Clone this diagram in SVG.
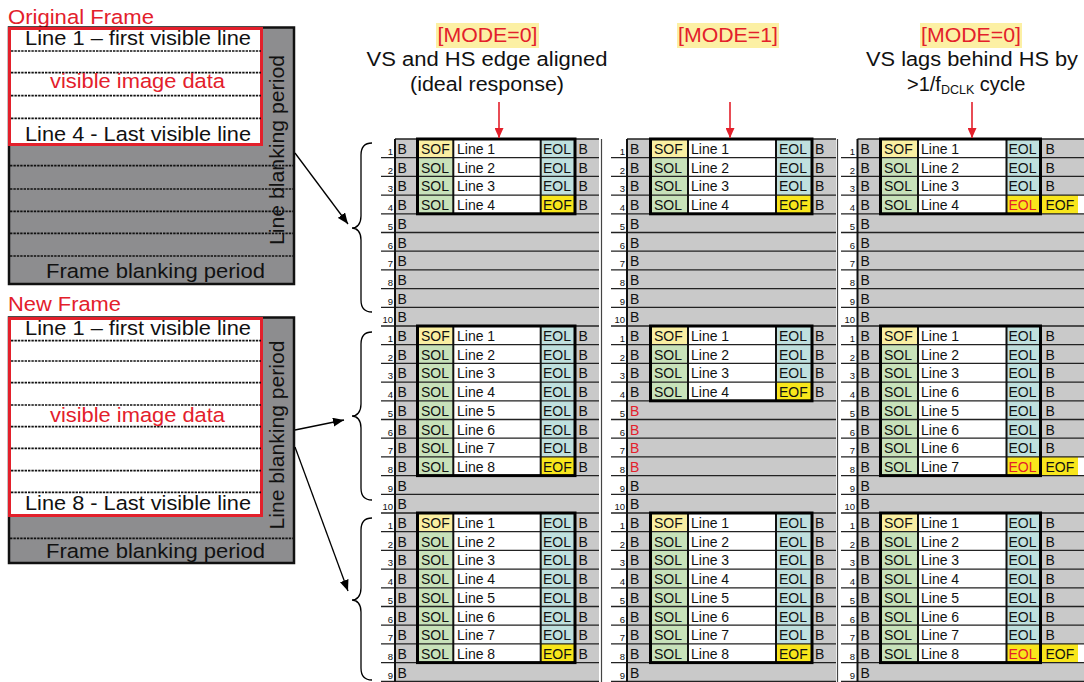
<svg xmlns="http://www.w3.org/2000/svg" width="1084" height="682" viewBox="0 0 1084 682">
<style>
.t{font-family:"Liberation Sans",Arial,Helvetica,sans-serif}
.c{font-size:14px;fill:#111}
.n{font-size:9.5px;text-anchor:end;fill:#111}
.hd{font-size:20px;fill:#111}
.lb{font-size:20.5px;fill:#111}
.r{fill:#e3202b}
.gry{fill:#c9c9c9}
.sof{fill:#faefa2}
.sol{fill:#c8e2ba}
.eol{fill:#c0e0de}
.eof{fill:#f8e61c}
.wht{fill:#fff}
.hl{fill:none;stroke:#222;stroke-width:1.3}
.vl{fill:none;stroke:#111;stroke-width:2}
.box{fill:none;stroke:#000;stroke-width:3}
.dash{fill:none;stroke:#111;stroke-width:1.7;stroke-dasharray:2.4 1}
.conn{fill:none;stroke:#000;stroke-width:1.3}
.rarr{fill:none;stroke:#e3202b;stroke-width:1.6}
</style>
<defs>
<marker id="ah" markerUnits="userSpaceOnUse" markerWidth="11" markerHeight="9" refX="11" refY="4.5" orient="auto"><path d="M0,0L11,4.5L0,9z" fill="#000"/></marker>
<marker id="rah" markerUnits="userSpaceOnUse" markerWidth="10" markerHeight="9" refX="10" refY="4.5" orient="auto"><path d="M0,0L10,4.5L0,9z" fill="#e3202b"/></marker>
</defs>
<rect width="1084" height="682" fill="#fff"/>

<!-- Original frame -->
<g id="original-frame">
<text class="t r" x="8" y="23.5" font-size="20.5" textLength="146" lengthAdjust="spacingAndGlyphs">Original Frame</text>
<rect x="9" y="27.5" width="285" height="256.5" fill="#8d8d8f" stroke="#111" stroke-width="2.5"/>
<rect x="9.5" y="28.5" width="252" height="116" fill="#fff" stroke="#e3202b" stroke-width="3"/>
<path class="dash" d="M11 51H261M11 72.7H261M11 95.7H261M11 118.3H261M10 165.7H293M10 189H293M10 211.3H293M10 233.3H293M10 256H293"/>
<text class="t lb" x="138" y="45" text-anchor="middle" textLength="226" lengthAdjust="spacingAndGlyphs">Line 1 – first visible line</text>
<text class="t lb r" x="137.5" y="88" text-anchor="middle" textLength="175" lengthAdjust="spacingAndGlyphs">visible image data</text>
<text class="t lb" x="138" y="141" text-anchor="middle" textLength="226" lengthAdjust="spacingAndGlyphs">Line 4 - Last visible line</text>
<text class="t lb" transform="translate(284,150) rotate(-90)" x="0" y="0" text-anchor="middle" textLength="190" lengthAdjust="spacingAndGlyphs">Line blanking period</text>
<text class="t lb" x="155.5" y="278" text-anchor="middle" textLength="219" lengthAdjust="spacingAndGlyphs">Frame blanking period</text>
</g>

<!-- New frame -->
<g id="new-frame">
<text class="t r" x="8" y="311" font-size="20.5" textLength="113" lengthAdjust="spacingAndGlyphs">New Frame</text>
<rect x="9" y="317.5" width="285" height="245.5" fill="#8d8d8f" stroke="#111" stroke-width="2.5"/>
<rect x="9.5" y="318.5" width="252" height="197" fill="#fff" stroke="#e3202b" stroke-width="3"/>
<path class="dash" d="M11 340.7H261M11 361H261M11 382.7H261M11 405H261M11 426.7H261M11 448.3H261M11 470.7H261M11 492.3H261M10 538.3H293"/>
<text class="t lb" x="138" y="335" text-anchor="middle" textLength="226" lengthAdjust="spacingAndGlyphs">Line 1 – first visible line</text>
<text class="t lb r" x="137.5" y="422" text-anchor="middle" textLength="175" lengthAdjust="spacingAndGlyphs">visible image data</text>
<text class="t lb" x="138" y="510" text-anchor="middle" textLength="226" lengthAdjust="spacingAndGlyphs">Line 8 - Last visible line</text>
<text class="t lb" transform="translate(284,435) rotate(-90)" x="0" y="0" text-anchor="middle" textLength="189" lengthAdjust="spacingAndGlyphs">Line blanking period</text>
<text class="t lb" x="155.5" y="558" text-anchor="middle" textLength="219" lengthAdjust="spacingAndGlyphs">Frame blanking period</text>
</g>

<!-- Headings -->
<g id="heading-1">
<rect x="436" y="23" width="103" height="25" fill="#fcf0a4"/>
<text class="t hd r" x="487.5" y="42" text-anchor="middle" textLength="100" lengthAdjust="spacingAndGlyphs">[MODE=0]</text>
<text class="t hd" x="487" y="66" text-anchor="middle" textLength="241" lengthAdjust="spacingAndGlyphs">VS and HS edge aligned</text>
<text class="t hd" x="487" y="91" text-anchor="middle" textLength="154" lengthAdjust="spacingAndGlyphs">(ideal response)</text>
</g>
<g id="heading-2">
<rect x="677" y="23" width="102" height="25" fill="#fcf0a4"/>
<text class="t hd r" x="728" y="42" text-anchor="middle" textLength="100" lengthAdjust="spacingAndGlyphs">[MODE=1]</text>
</g>
<g id="heading-3">
<rect x="920" y="23" width="102" height="25" fill="#fcf0a4"/>
<text class="t hd r" x="971" y="42" text-anchor="middle" textLength="100" lengthAdjust="spacingAndGlyphs">[MODE=0]</text>
<text class="t hd" x="866" y="66" textLength="212" lengthAdjust="spacingAndGlyphs">VS lags behind HS by</text>
<text class="t hd" x="907" y="91">&gt;1/f<tspan font-size="12.5" dy="3">DCLK</tspan><tspan dy="-3"> cycle</tspan></text>
</g>

<!-- Column 1 -->
<g id="col1">
<rect class="gry" x="395" y="139" width="204" height="542.3"/>
<rect class="sof" x="417.5" y="139" width="35.8" height="18.7"/>
<rect class="sol" x="417.5" y="157.7" width="35.8" height="56.1"/>
<rect class="wht" x="453.3" y="139" width="87.4" height="74.8"/>
<rect class="eol" x="540.7" y="139" width="34.3" height="56.1"/>
<rect class="eof" x="540.7" y="195.1" width="34.3" height="18.7"/>
<rect class="sof" x="417.5" y="326" width="35.8" height="18.7"/>
<rect class="sol" x="417.5" y="344.7" width="35.8" height="130.9"/>
<rect class="wht" x="453.3" y="326" width="87.4" height="149.6"/>
<rect class="eol" x="540.7" y="326" width="34.3" height="130.9"/>
<rect class="eof" x="540.7" y="456.9" width="34.3" height="18.7"/>
<rect class="sof" x="417.5" y="513" width="35.8" height="18.7"/>
<rect class="sol" x="417.5" y="531.7" width="35.8" height="130.9"/>
<rect class="wht" x="453.3" y="513" width="87.4" height="149.6"/>
<rect class="eol" x="540.7" y="513" width="34.3" height="130.9"/>
<rect class="eof" x="540.7" y="643.9" width="34.3" height="18.7"/>
<path class="hl" d="M395 139H599M381 157.7H599M381 176.4H599M381 195.1H599M381 213.8H599M381 232.5H599M381 251.2H599M381 269.9H599M381 288.6H599M381 307.3H599M381 326H599M381 344.7H599M381 363.4H599M381 382.1H599M381 400.8H599M381 419.5H599M381 438.2H599M381 456.9H599M381 475.6H599M381 494.3H599M381 513H599M381 531.7H599M381 550.4H599M381 569.1H599M381 587.8H599M381 606.5H599M381 625.2H599M381 643.9H599M381 662.6H599M381 681.3H599"/>
<path class="vl" d="M395 139V682M453.3 139V213.8M540.7 139V213.8M453.3 326V475.6M540.7 326V475.6M453.3 513V662.6M540.7 513V662.6"/>
<rect class="box" x="417.5" y="139" width="157.5" height="74.8"/>
<rect class="box" x="417.5" y="326" width="157.5" height="149.6"/>
<rect class="box" x="417.5" y="513" width="157.5" height="149.6"/>
<text class="t n"><tspan x="393" y="155">1</tspan><tspan x="393" y="173.7">2</tspan><tspan x="393" y="192.4">3</tspan><tspan x="393" y="211.1">4</tspan><tspan x="393" y="229.8">5</tspan><tspan x="393" y="248.5">6</tspan><tspan x="393" y="267.2">7</tspan><tspan x="393" y="285.9">8</tspan><tspan x="393" y="304.6">9</tspan><tspan x="393" y="323.3">10</tspan><tspan x="393" y="342">1</tspan><tspan x="393" y="360.7">2</tspan><tspan x="393" y="379.4">3</tspan><tspan x="393" y="398.1">4</tspan><tspan x="393" y="416.8">5</tspan><tspan x="393" y="435.5">6</tspan><tspan x="393" y="454.2">7</tspan><tspan x="393" y="472.9">8</tspan><tspan x="393" y="491.6">9</tspan><tspan x="393" y="510.3">10</tspan><tspan x="393" y="529">1</tspan><tspan x="393" y="547.7">2</tspan><tspan x="393" y="566.4">3</tspan><tspan x="393" y="585.1">4</tspan><tspan x="393" y="603.8">5</tspan><tspan x="393" y="622.5">6</tspan><tspan x="393" y="641.2">7</tspan><tspan x="393" y="659.9">8</tspan><tspan x="393" y="678.6">9</tspan></text>
<text class="t c"><tspan x="397.5" y="154">B</tspan><tspan x="397.5" y="172.7">B</tspan><tspan x="397.5" y="191.4">B</tspan><tspan x="397.5" y="210.1">B</tspan><tspan x="397.5" y="228.8">B</tspan><tspan x="397.5" y="247.5">B</tspan><tspan x="397.5" y="266.2">B</tspan><tspan x="397.5" y="284.9">B</tspan><tspan x="397.5" y="303.6">B</tspan><tspan x="397.5" y="322.3">B</tspan><tspan x="397.5" y="341">B</tspan><tspan x="397.5" y="359.7">B</tspan><tspan x="397.5" y="378.4">B</tspan><tspan x="397.5" y="397.1">B</tspan><tspan x="397.5" y="415.8">B</tspan><tspan x="397.5" y="434.5">B</tspan><tspan x="397.5" y="453.2">B</tspan><tspan x="397.5" y="471.9">B</tspan><tspan x="397.5" y="490.6">B</tspan><tspan x="397.5" y="509.3">B</tspan><tspan x="397.5" y="528">B</tspan><tspan x="397.5" y="546.7">B</tspan><tspan x="397.5" y="565.4">B</tspan><tspan x="397.5" y="584.1">B</tspan><tspan x="397.5" y="602.8">B</tspan><tspan x="397.5" y="621.5">B</tspan><tspan x="397.5" y="640.2">B</tspan><tspan x="397.5" y="658.9">B</tspan><tspan x="397.5" y="677.6">B</tspan></text>
<text class="t c"><tspan x="421" y="154">SOF</tspan><tspan x="421" y="172.7">SOL</tspan><tspan x="421" y="191.4">SOL</tspan><tspan x="421" y="210.1">SOL</tspan><tspan x="421" y="341">SOF</tspan><tspan x="421" y="359.7">SOL</tspan><tspan x="421" y="378.4">SOL</tspan><tspan x="421" y="397.1">SOL</tspan><tspan x="421" y="415.8">SOL</tspan><tspan x="421" y="434.5">SOL</tspan><tspan x="421" y="453.2">SOL</tspan><tspan x="421" y="471.9">SOL</tspan><tspan x="421" y="528">SOF</tspan><tspan x="421" y="546.7">SOL</tspan><tspan x="421" y="565.4">SOL</tspan><tspan x="421" y="584.1">SOL</tspan><tspan x="421" y="602.8">SOL</tspan><tspan x="421" y="621.5">SOL</tspan><tspan x="421" y="640.2">SOL</tspan><tspan x="421" y="658.9">SOL</tspan></text>
<text class="t c"><tspan x="457" y="154">Line 1</tspan><tspan x="457" y="172.7">Line 2</tspan><tspan x="457" y="191.4">Line 3</tspan><tspan x="457" y="210.1">Line 4</tspan><tspan x="457" y="341">Line 1</tspan><tspan x="457" y="359.7">Line 2</tspan><tspan x="457" y="378.4">Line 3</tspan><tspan x="457" y="397.1">Line 4</tspan><tspan x="457" y="415.8">Line 5</tspan><tspan x="457" y="434.5">Line 6</tspan><tspan x="457" y="453.2">Line 7</tspan><tspan x="457" y="471.9">Line 8</tspan><tspan x="457" y="528">Line 1</tspan><tspan x="457" y="546.7">Line 2</tspan><tspan x="457" y="565.4">Line 3</tspan><tspan x="457" y="584.1">Line 4</tspan><tspan x="457" y="602.8">Line 5</tspan><tspan x="457" y="621.5">Line 6</tspan><tspan x="457" y="640.2">Line 7</tspan><tspan x="457" y="658.9">Line 8</tspan></text>
<text class="t c"><tspan x="543" y="154">EOL</tspan><tspan x="543" y="172.7">EOL</tspan><tspan x="543" y="191.4">EOL</tspan><tspan x="543" y="210.1">EOF</tspan><tspan x="543" y="341">EOL</tspan><tspan x="543" y="359.7">EOL</tspan><tspan x="543" y="378.4">EOL</tspan><tspan x="543" y="397.1">EOL</tspan><tspan x="543" y="415.8">EOL</tspan><tspan x="543" y="434.5">EOL</tspan><tspan x="543" y="453.2">EOL</tspan><tspan x="543" y="471.9">EOF</tspan><tspan x="543" y="528">EOL</tspan><tspan x="543" y="546.7">EOL</tspan><tspan x="543" y="565.4">EOL</tspan><tspan x="543" y="584.1">EOL</tspan><tspan x="543" y="602.8">EOL</tspan><tspan x="543" y="621.5">EOL</tspan><tspan x="543" y="640.2">EOL</tspan><tspan x="543" y="658.9">EOF</tspan></text>
<text class="t c"><tspan x="578.5" y="154">B</tspan><tspan x="578.5" y="172.7">B</tspan><tspan x="578.5" y="191.4">B</tspan><tspan x="578.5" y="210.1">B</tspan><tspan x="578.5" y="341">B</tspan><tspan x="578.5" y="359.7">B</tspan><tspan x="578.5" y="378.4">B</tspan><tspan x="578.5" y="397.1">B</tspan><tspan x="578.5" y="415.8">B</tspan><tspan x="578.5" y="434.5">B</tspan><tspan x="578.5" y="453.2">B</tspan><tspan x="578.5" y="471.9">B</tspan><tspan x="578.5" y="528">B</tspan><tspan x="578.5" y="546.7">B</tspan><tspan x="578.5" y="565.4">B</tspan><tspan x="578.5" y="584.1">B</tspan><tspan x="578.5" y="602.8">B</tspan><tspan x="578.5" y="621.5">B</tspan><tspan x="578.5" y="640.2">B</tspan><tspan x="578.5" y="658.9">B</tspan></text>
</g>

<!-- Column 2 -->
<g id="col2">
<rect class="gry" x="627" y="139" width="209" height="542.3"/>
<rect class="sof" x="650.5" y="139" width="37.5" height="18.7"/>
<rect class="sol" x="650.5" y="157.7" width="37.5" height="56.1"/>
<rect class="wht" x="688" y="139" width="88" height="74.8"/>
<rect class="eol" x="776" y="139" width="36" height="56.1"/>
<rect class="eof" x="776" y="195.1" width="36" height="18.7"/>
<rect class="sof" x="650.5" y="326" width="37.5" height="18.7"/>
<rect class="sol" x="650.5" y="344.7" width="37.5" height="56.1"/>
<rect class="wht" x="688" y="326" width="88" height="74.8"/>
<rect class="eol" x="776" y="326" width="36" height="56.1"/>
<rect class="eof" x="776" y="382.1" width="36" height="18.7"/>
<rect class="sof" x="650.5" y="513" width="37.5" height="18.7"/>
<rect class="sol" x="650.5" y="531.7" width="37.5" height="130.9"/>
<rect class="wht" x="688" y="513" width="88" height="149.6"/>
<rect class="eol" x="776" y="513" width="36" height="130.9"/>
<rect class="eof" x="776" y="643.9" width="36" height="18.7"/>
<path class="hl" d="M627 139H836M611 157.7H836M611 176.4H836M611 195.1H836M611 213.8H836M611 232.5H836M611 251.2H836M611 269.9H836M611 288.6H836M611 307.3H836M611 326H836M611 344.7H836M611 363.4H836M611 382.1H836M611 400.8H836M611 419.5H836M611 438.2H836M611 456.9H836M611 475.6H836M611 494.3H836M611 513H836M611 531.7H836M611 550.4H836M611 569.1H836M611 587.8H836M611 606.5H836M611 625.2H836M611 643.9H836M611 662.6H836M611 681.3H836"/>
<path class="vl" d="M627 139V682M688 139V213.8M776 139V213.8M688 326V400.8M776 326V400.8M688 513V662.6M776 513V662.6"/>
<rect class="box" x="650.5" y="139" width="161.5" height="74.8"/>
<rect class="box" x="650.5" y="326" width="161.5" height="74.8"/>
<rect class="box" x="650.5" y="513" width="161.5" height="149.6"/>
<text class="t n"><tspan x="625" y="155">1</tspan><tspan x="625" y="173.7">2</tspan><tspan x="625" y="192.4">3</tspan><tspan x="625" y="211.1">4</tspan><tspan x="625" y="229.8">5</tspan><tspan x="625" y="248.5">6</tspan><tspan x="625" y="267.2">7</tspan><tspan x="625" y="285.9">8</tspan><tspan x="625" y="304.6">9</tspan><tspan x="625" y="323.3">10</tspan><tspan x="625" y="342">1</tspan><tspan x="625" y="360.7">2</tspan><tspan x="625" y="379.4">3</tspan><tspan x="625" y="398.1">4</tspan><tspan x="625" y="416.8">5</tspan><tspan x="625" y="435.5">6</tspan><tspan x="625" y="454.2">7</tspan><tspan x="625" y="472.9">8</tspan><tspan x="625" y="491.6">9</tspan><tspan x="625" y="510.3">10</tspan><tspan x="625" y="529">1</tspan><tspan x="625" y="547.7">2</tspan><tspan x="625" y="566.4">3</tspan><tspan x="625" y="585.1">4</tspan><tspan x="625" y="603.8">5</tspan><tspan x="625" y="622.5">6</tspan><tspan x="625" y="641.2">7</tspan><tspan x="625" y="659.9">8</tspan><tspan x="625" y="678.6">9</tspan></text>
<text class="t c"><tspan x="630" y="154">B</tspan><tspan x="630" y="172.7">B</tspan><tspan x="630" y="191.4">B</tspan><tspan x="630" y="210.1">B</tspan><tspan x="630" y="228.8">B</tspan><tspan x="630" y="247.5">B</tspan><tspan x="630" y="266.2">B</tspan><tspan x="630" y="284.9">B</tspan><tspan x="630" y="303.6">B</tspan><tspan x="630" y="322.3">B</tspan><tspan x="630" y="341">B</tspan><tspan x="630" y="359.7">B</tspan><tspan x="630" y="378.4">B</tspan><tspan x="630" y="397.1">B</tspan><tspan class="r" x="630" y="415.8">B</tspan><tspan class="r" x="630" y="434.5">B</tspan><tspan class="r" x="630" y="453.2">B</tspan><tspan class="r" x="630" y="471.9">B</tspan><tspan x="630" y="490.6">B</tspan><tspan x="630" y="509.3">B</tspan><tspan x="630" y="528">B</tspan><tspan x="630" y="546.7">B</tspan><tspan x="630" y="565.4">B</tspan><tspan x="630" y="584.1">B</tspan><tspan x="630" y="602.8">B</tspan><tspan x="630" y="621.5">B</tspan><tspan x="630" y="640.2">B</tspan><tspan x="630" y="658.9">B</tspan><tspan x="630" y="677.6">B</tspan></text>
<text class="t c"><tspan x="654" y="154">SOF</tspan><tspan x="654" y="172.7">SOL</tspan><tspan x="654" y="191.4">SOL</tspan><tspan x="654" y="210.1">SOL</tspan><tspan x="654" y="341">SOF</tspan><tspan x="654" y="359.7">SOL</tspan><tspan x="654" y="378.4">SOL</tspan><tspan x="654" y="397.1">SOL</tspan><tspan x="654" y="528">SOF</tspan><tspan x="654" y="546.7">SOL</tspan><tspan x="654" y="565.4">SOL</tspan><tspan x="654" y="584.1">SOL</tspan><tspan x="654" y="602.8">SOL</tspan><tspan x="654" y="621.5">SOL</tspan><tspan x="654" y="640.2">SOL</tspan><tspan x="654" y="658.9">SOL</tspan></text>
<text class="t c"><tspan x="691" y="154">Line 1</tspan><tspan x="691" y="172.7">Line 2</tspan><tspan x="691" y="191.4">Line 3</tspan><tspan x="691" y="210.1">Line 4</tspan><tspan x="691" y="341">Line 1</tspan><tspan x="691" y="359.7">Line 2</tspan><tspan x="691" y="378.4">Line 3</tspan><tspan x="691" y="397.1">Line 4</tspan><tspan x="691" y="528">Line 1</tspan><tspan x="691" y="546.7">Line 2</tspan><tspan x="691" y="565.4">Line 3</tspan><tspan x="691" y="584.1">Line 4</tspan><tspan x="691" y="602.8">Line 5</tspan><tspan x="691" y="621.5">Line 6</tspan><tspan x="691" y="640.2">Line 7</tspan><tspan x="691" y="658.9">Line 8</tspan></text>
<text class="t c"><tspan x="779" y="154">EOL</tspan><tspan x="779" y="172.7">EOL</tspan><tspan x="779" y="191.4">EOL</tspan><tspan x="779" y="210.1">EOF</tspan><tspan x="779" y="341">EOL</tspan><tspan x="779" y="359.7">EOL</tspan><tspan x="779" y="378.4">EOL</tspan><tspan x="779" y="397.1">EOF</tspan><tspan x="779" y="528">EOL</tspan><tspan x="779" y="546.7">EOL</tspan><tspan x="779" y="565.4">EOL</tspan><tspan x="779" y="584.1">EOL</tspan><tspan x="779" y="602.8">EOL</tspan><tspan x="779" y="621.5">EOL</tspan><tspan x="779" y="640.2">EOL</tspan><tspan x="779" y="658.9">EOF</tspan></text>
<text class="t c"><tspan x="815" y="154">B</tspan><tspan x="815" y="172.7">B</tspan><tspan x="815" y="191.4">B</tspan><tspan x="815" y="210.1">B</tspan><tspan x="815" y="341">B</tspan><tspan x="815" y="359.7">B</tspan><tspan x="815" y="378.4">B</tspan><tspan x="815" y="397.1">B</tspan><tspan x="815" y="528">B</tspan><tspan x="815" y="546.7">B</tspan><tspan x="815" y="565.4">B</tspan><tspan x="815" y="584.1">B</tspan><tspan x="815" y="602.8">B</tspan><tspan x="815" y="621.5">B</tspan><tspan x="815" y="640.2">B</tspan><tspan x="815" y="658.9">B</tspan></text>
</g>

<!-- Column 3 -->
<g id="col3">
<rect class="gry" x="857.5" y="139" width="226.5" height="542.3"/>
<rect class="sof" x="880.5" y="139" width="37.5" height="18.7"/>
<rect class="sol" x="880.5" y="157.7" width="37.5" height="56.1"/>
<rect class="wht" x="918" y="139" width="88.5" height="74.8"/>
<rect class="eol" x="1006.5" y="139" width="34" height="56.1"/>
<rect class="eof" x="1006.5" y="195.1" width="34" height="18.7"/>
<rect class="eof" x="1042" y="195.1" width="36" height="18.7"/>
<rect class="wht" x="1078" y="195.1" width="6" height="18.7"/>
<rect class="sof" x="880.5" y="326" width="37.5" height="18.7"/>
<rect class="sol" x="880.5" y="344.7" width="37.5" height="130.9"/>
<rect class="wht" x="918" y="326" width="88.5" height="149.6"/>
<rect class="eol" x="1006.5" y="326" width="34" height="130.9"/>
<rect class="eof" x="1006.5" y="456.9" width="34" height="18.7"/>
<rect class="eof" x="1042" y="456.9" width="36" height="18.7"/>
<rect class="wht" x="1078" y="456.9" width="6" height="18.7"/>
<rect class="sof" x="880.5" y="513" width="37.5" height="18.7"/>
<rect class="sol" x="880.5" y="531.7" width="37.5" height="130.9"/>
<rect class="wht" x="918" y="513" width="88.5" height="149.6"/>
<rect class="eol" x="1006.5" y="513" width="34" height="130.9"/>
<rect class="eof" x="1006.5" y="643.9" width="34" height="18.7"/>
<rect class="eof" x="1042" y="643.9" width="36" height="18.7"/>
<rect class="wht" x="1078" y="643.9" width="6" height="18.7"/>
<path class="hl" d="M857.5 139H1084M841 157.7H1084M841 176.4H1084M841 195.1H1084M841 213.8H1084M841 232.5H1084M841 251.2H1084M841 269.9H1084M841 288.6H1084M841 307.3H1084M841 326H1084M841 344.7H1084M841 363.4H1084M841 382.1H1084M841 400.8H1084M841 419.5H1084M841 438.2H1084M841 456.9H1084M841 475.6H1084M841 494.3H1084M841 513H1084M841 531.7H1084M841 550.4H1084M841 569.1H1084M841 587.8H1084M841 606.5H1084M841 625.2H1084M841 643.9H1084M841 662.6H1084M841 681.3H1084"/>
<path class="vl" d="M857.5 139V682M918 139V213.8M1006.5 139V213.8M918 326V475.6M1006.5 326V475.6M918 513V662.6M1006.5 513V662.6"/>
<rect class="box" x="880.5" y="139" width="160" height="74.8"/>
<rect class="box" x="880.5" y="326" width="160" height="149.6"/>
<rect class="box" x="880.5" y="513" width="160" height="149.6"/>
<text class="t n"><tspan x="855" y="155">1</tspan><tspan x="855" y="173.7">2</tspan><tspan x="855" y="192.4">3</tspan><tspan x="855" y="211.1">4</tspan><tspan x="855" y="229.8">5</tspan><tspan x="855" y="248.5">6</tspan><tspan x="855" y="267.2">7</tspan><tspan x="855" y="285.9">8</tspan><tspan x="855" y="304.6">9</tspan><tspan x="855" y="323.3">10</tspan><tspan x="855" y="342">1</tspan><tspan x="855" y="360.7">2</tspan><tspan x="855" y="379.4">3</tspan><tspan x="855" y="398.1">4</tspan><tspan x="855" y="416.8">5</tspan><tspan x="855" y="435.5">6</tspan><tspan x="855" y="454.2">7</tspan><tspan x="855" y="472.9">8</tspan><tspan x="855" y="491.6">9</tspan><tspan x="855" y="510.3">10</tspan><tspan x="855" y="529">1</tspan><tspan x="855" y="547.7">2</tspan><tspan x="855" y="566.4">3</tspan><tspan x="855" y="585.1">4</tspan><tspan x="855" y="603.8">5</tspan><tspan x="855" y="622.5">6</tspan><tspan x="855" y="641.2">7</tspan><tspan x="855" y="659.9">8</tspan><tspan x="855" y="678.6">9</tspan></text>
<text class="t c"><tspan x="860.5" y="154">B</tspan><tspan x="860.5" y="172.7">B</tspan><tspan x="860.5" y="191.4">B</tspan><tspan x="860.5" y="210.1">B</tspan><tspan x="860.5" y="228.8">B</tspan><tspan x="860.5" y="247.5">B</tspan><tspan x="860.5" y="266.2">B</tspan><tspan x="860.5" y="284.9">B</tspan><tspan x="860.5" y="303.6">B</tspan><tspan x="860.5" y="322.3">B</tspan><tspan x="860.5" y="341">B</tspan><tspan x="860.5" y="359.7">B</tspan><tspan x="860.5" y="378.4">B</tspan><tspan x="860.5" y="397.1">B</tspan><tspan x="860.5" y="415.8">B</tspan><tspan x="860.5" y="434.5">B</tspan><tspan x="860.5" y="453.2">B</tspan><tspan x="860.5" y="471.9">B</tspan><tspan x="860.5" y="490.6">B</tspan><tspan x="860.5" y="509.3">B</tspan><tspan x="860.5" y="528">B</tspan><tspan x="860.5" y="546.7">B</tspan><tspan x="860.5" y="565.4">B</tspan><tspan x="860.5" y="584.1">B</tspan><tspan x="860.5" y="602.8">B</tspan><tspan x="860.5" y="621.5">B</tspan><tspan x="860.5" y="640.2">B</tspan><tspan x="860.5" y="658.9">B</tspan><tspan x="860.5" y="677.6">B</tspan></text>
<text class="t c"><tspan x="884" y="154">SOF</tspan><tspan x="884" y="172.7">SOL</tspan><tspan x="884" y="191.4">SOL</tspan><tspan x="884" y="210.1">SOL</tspan><tspan x="884" y="341">SOF</tspan><tspan x="884" y="359.7">SOL</tspan><tspan x="884" y="378.4">SOL</tspan><tspan x="884" y="397.1">SOL</tspan><tspan x="884" y="415.8">SOL</tspan><tspan x="884" y="434.5">SOL</tspan><tspan x="884" y="453.2">SOL</tspan><tspan x="884" y="471.9">SOL</tspan><tspan x="884" y="528">SOF</tspan><tspan x="884" y="546.7">SOL</tspan><tspan x="884" y="565.4">SOL</tspan><tspan x="884" y="584.1">SOL</tspan><tspan x="884" y="602.8">SOL</tspan><tspan x="884" y="621.5">SOL</tspan><tspan x="884" y="640.2">SOL</tspan><tspan x="884" y="658.9">SOL</tspan></text>
<text class="t c"><tspan x="921" y="154">Line 1</tspan><tspan x="921" y="172.7">Line 2</tspan><tspan x="921" y="191.4">Line 3</tspan><tspan x="921" y="210.1">Line 4</tspan><tspan x="921" y="341">Line 1</tspan><tspan x="921" y="359.7">Line 2</tspan><tspan x="921" y="378.4">Line 3</tspan><tspan x="921" y="397.1">Line 6</tspan><tspan x="921" y="415.8">Line 5</tspan><tspan x="921" y="434.5">Line 6</tspan><tspan x="921" y="453.2">Line 6</tspan><tspan x="921" y="471.9">Line 7</tspan><tspan x="921" y="528">Line 1</tspan><tspan x="921" y="546.7">Line 2</tspan><tspan x="921" y="565.4">Line 3</tspan><tspan x="921" y="584.1">Line 4</tspan><tspan x="921" y="602.8">Line 5</tspan><tspan x="921" y="621.5">Line 6</tspan><tspan x="921" y="640.2">Line 7</tspan><tspan x="921" y="658.9">Line 8</tspan></text>
<text class="t c"><tspan x="1008.5" y="154">EOL</tspan><tspan x="1008.5" y="172.7">EOL</tspan><tspan x="1008.5" y="191.4">EOL</tspan><tspan class="r" x="1008.5" y="210.1">EOL</tspan><tspan x="1008.5" y="341">EOL</tspan><tspan x="1008.5" y="359.7">EOL</tspan><tspan x="1008.5" y="378.4">EOL</tspan><tspan x="1008.5" y="397.1">EOL</tspan><tspan x="1008.5" y="415.8">EOL</tspan><tspan x="1008.5" y="434.5">EOL</tspan><tspan x="1008.5" y="453.2">EOL</tspan><tspan class="r" x="1008.5" y="471.9">EOL</tspan><tspan x="1008.5" y="528">EOL</tspan><tspan x="1008.5" y="546.7">EOL</tspan><tspan x="1008.5" y="565.4">EOL</tspan><tspan x="1008.5" y="584.1">EOL</tspan><tspan x="1008.5" y="602.8">EOL</tspan><tspan x="1008.5" y="621.5">EOL</tspan><tspan x="1008.5" y="640.2">EOL</tspan><tspan class="r" x="1008.5" y="658.9">EOL</tspan></text>
<text class="t c"><tspan x="1045.5" y="154">B</tspan><tspan x="1045.5" y="172.7">B</tspan><tspan x="1045.5" y="191.4">B</tspan><tspan x="1045.5" y="210.1">EOF</tspan><tspan x="1045.5" y="341">B</tspan><tspan x="1045.5" y="359.7">B</tspan><tspan x="1045.5" y="378.4">B</tspan><tspan x="1045.5" y="397.1">B</tspan><tspan x="1045.5" y="415.8">B</tspan><tspan x="1045.5" y="434.5">B</tspan><tspan x="1045.5" y="453.2">B</tspan><tspan x="1045.5" y="471.9">EOF</tspan><tspan x="1045.5" y="528">B</tspan><tspan x="1045.5" y="546.7">B</tspan><tspan x="1045.5" y="565.4">B</tspan><tspan x="1045.5" y="584.1">B</tspan><tspan x="1045.5" y="602.8">B</tspan><tspan x="1045.5" y="621.5">B</tspan><tspan x="1045.5" y="640.2">B</tspan><tspan x="1045.5" y="658.9">EOF</tspan></text>
</g>

<g id="separators">
<path d="M601.5 139V682M837.5 139V682" fill="none" stroke="#444" stroke-width="1.2"/>
</g>

<g id="braces">
<path class="conn" d="M372 143C364 143 361 147 361 155L361 216C361 224 357 228 352 228C357 228 361 232 361 240L361 300C361 308 364 312 372 312"/>
<path class="conn" d="M372 332C364 332 361 336 361 344L361 404C361 412 357 416 352 416C357 416 361 420 361 428L361 488C361 496 364 500 372 500"/>
<path class="conn" d="M372 518C364 518 361 522 361 530L361 588C361 596 357 600 352 600C357 600 361 604 361 612L361 668C361 676 364 680 372 680"/>
</g>

<g id="connectors">
<path class="conn" d="M295 153L348 224" marker-end="url(#ah)"/>
<path class="conn" d="M295 430L344 420" marker-end="url(#ah)"/>
<path class="conn" d="M295 447L348 591" marker-end="url(#ah)"/>
<path class="rarr" d="M499 102V138" marker-end="url(#rah)"/>
<path class="rarr" d="M730 102V138" marker-end="url(#rah)"/>
<path class="rarr" d="M972 102V138" marker-end="url(#rah)"/>
</g>
</svg>
